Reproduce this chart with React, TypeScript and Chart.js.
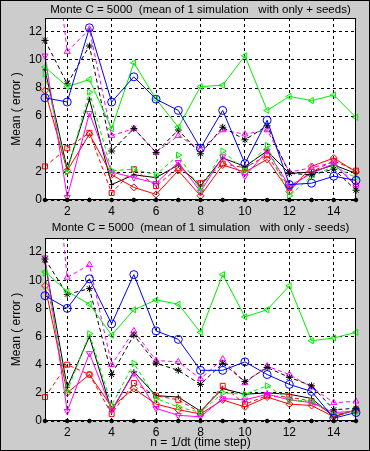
import React, { useEffect, useRef } from 'react';
import { Chart, registerables } from 'chart.js';

Chart.register(...registerables);

// ---------- data ----------
const steps = [1, 2, 3, 4, 5, 6, 7, 8, 9, 10, 11, 12, 13, 14, 15];
const xTickValues = [2, 4, 6, 8, 10, 12, 14];
const yTickValues = [0, 2, 4, 6, 8, 10, 12];

const titlePlus = 'Monte C = 5000  (mean of 1 simulation   with only + seeds)';
const titleMinus = 'Monte C = 5000  (mean of 1 simulation   with only - seeds)';
const yAxisTitle = 'Mean ( error )';
const xAxisTitle = 'n = 1/dt (time step)';

// top panel (only + seeds)
const plusBlueCircle = [7.3, 7.0, 12.3, 7.0, 8.8, 7.2, 6.4, 3.7, 6.4, 2.6, 5.7, 1.1, 1.2, 1.7, 1.4];
const plusGreenLeft = [9.5, 8.1, 8.6, 5.1, 9.8, 7.2, 5.2, 8.1, 8.2, 10.3, 6.4, 7.4, 7.1, 7.5, 5.9];
const plusBlackStar = [11.4, 8.3, 11.0, 3.5, 5.1, 3.4, 5.0, 3.3, 5.2, 4.3, 5.3, 1.9, 1.8, 2.2, 0.7];
const plusMagentaUp = [24, 10.6, 12.2, 4.6, 5.1, 3.4, 4.6, 3.6, 5.0, 4.7, 5.0, 2.0, 2.3, 2.7, 1.1];
const plusGreenRight = [9.0, 2.0, 7.7, 2.1, 2.2, 1.8, 3.2, 0.7, 3.5, 2.1, 3.9, 0.3, 1.7, 2.4, 1.6];
const plusMagentaDown = [10.3, 0.2, 6.2, 2.0, 1.6, 1.2, 2.7, 0.6, 3.1, 1.7, 3.5, 1.0, 1.9, 2.6, 1.0];
const plusRedSquare = [2.4, 3.7, 4.8, 0.5, 2.2, 1.0, 2.3, 1.2, 2.6, 2.3, 3.2, 0.9, 2.0, 2.8, 2.1];
const plusRedDiamond = [7.8, 2.1, 4.7, 1.8, 0.9, 0.4, 2.1, 0.3, 2.5, 2.0, 2.9, 0.6, 2.4, 3.0, 2.0];
const plusBlackSolid = [9.3, 2.2, 7.2, 1.1, 1.8, 1.6, 2.5, 1.0, 3.0, 2.4, 3.5, 1.9, 2.0, 2.5, 1.9];
const plusZero = [0, 0, 0, 0, 0, 0, 0, 0, 0, 0, 0, 0, 0, 0, 0];

// bottom panel (only - seeds)
const minusBlueCircle = [8.9, 8.0, 10.1, 6.9, 10.4, 6.4, 5.8, 3.6, 3.6, 4.2, 3.3, 2.6, 2.1, 0.2, 0.6];
const minusGreenLeft = [10.6, 9.2, 8.3, 6.1, 7.9, 8.6, 8.3, 6.3, 10.4, 7.4, 7.9, 9.6, 5.7, 5.9, 6.3];
const minusBlackStar = [11.5, 9.0, 9.4, 3.3, 6.1, 4.1, 3.6, 2.6, 4.1, 2.8, 3.8, 3.1, 2.5, 0.8, 0.9];
const minusMagentaUp = [26, 10.2, 11.1, 4.0, 6.4, 4.3, 4.2, 3.0, 4.4, 2.7, 3.9, 3.3, 2.4, 1.3, 1.4];
const minusGreenRight = [10.5, 2.1, 6.2, 1.1, 4.1, 1.6, 1.0, 0.6, 2.0, 1.9, 2.5, 1.5, 1.4, 0.5, 0.6];
const minusMagentaDown = [11.6, 0.7, 4.8, 0.8, 3.4, 0.9, 0.4, 0.3, 1.6, 1.5, 1.9, 1.5, 1.3, 0.6, 0.7];
const minusRedSquare = [1.7, 4.0, 3.3, 0.5, 2.7, 1.8, 1.5, 0.6, 2.5, 1.2, 1.8, 1.7, 1.4, 0.4, 0.8];
const minusRedDiamond = [9.6, 2.0, 3.3, 1.0, 2.3, 1.2, 0.8, 0.5, 1.5, 1.0, 1.7, 1.2, 1.1, 0.3, 0.8];
const minusBlackSolid = [11.3, 2.4, 6.0, 0.7, 3.5, 1.8, 1.7, 0.7, 2.3, 1.9, 2.0, 1.9, 1.6, 0.3, 0.8];
const minusZero = [0, 0, 0, 0, 0, 0, 0, 0, 0, 0, 0, 0, 0, 0, 0];

// ---------- styles ----------
const BLUE = '#0000ff';
const GREEN = '#00ee00';
const MAGENTA = '#ff00ff';
const RED = '#ff0000';
const BLACK = '#000000';
const DASH = [4, 3];

type SeriesStyle = {
  color: string;
  pointStyle: string;
  rotation: number;
  radius: number;
  dash: number[];
  showLine: boolean;
  filled: boolean;
};

const seriesStyles: SeriesStyle[] = [
  { color: BLACK, pointStyle: 'circle', rotation: 0, radius: 1.8, dash: [], showLine: false, filled: true },
  { color: BLUE, pointStyle: 'circle', rotation: 0, radius: 4, dash: [], showLine: true, filled: false },
  { color: GREEN, pointStyle: 'triangle', rotation: 270, radius: 3.5, dash: [], showLine: true, filled: false },
  { color: BLACK, pointStyle: 'star', rotation: 0, radius: 3.5, dash: DASH, showLine: true, filled: false },
  { color: MAGENTA, pointStyle: 'triangle', rotation: 0, radius: 3.5, dash: DASH, showLine: true, filled: false },
  { color: GREEN, pointStyle: 'triangle', rotation: 90, radius: 3.5, dash: DASH, showLine: true, filled: false },
  { color: MAGENTA, pointStyle: 'triangle', rotation: 180, radius: 3.5, dash: [], showLine: true, filled: false },
  { color: RED, pointStyle: 'rect', rotation: 0, radius: 3.5, dash: DASH, showLine: true, filled: false },
  { color: RED, pointStyle: 'rectRot', rotation: 0, radius: 3.5, dash: [], showLine: true, filled: false },
  { color: BLACK, pointStyle: 'cross', rotation: 0, radius: 2.5, dash: [], showLine: true, filled: false },
];

const plusSeries = [plusZero, plusBlueCircle, plusGreenLeft, plusBlackStar, plusMagentaUp, plusGreenRight, plusMagentaDown, plusRedSquare, plusRedDiamond, plusBlackSolid];
const minusSeries = [minusZero, minusBlueCircle, minusGreenLeft, minusBlackStar, minusMagentaUp, minusGreenRight, minusMagentaDown, minusRedSquare, minusRedDiamond, minusBlackSolid];

const FONT = '"Liberation Sans", Arial, Helvetica, sans-serif';

const framePlugin = {
  id: 'matlabFrame',
  beforeDraw(chart: any) {
    const { ctx, chartArea: a } = chart;
    ctx.save();
    ctx.fillStyle = '#ffffff';
    ctx.fillRect(a.left, a.top, a.right - a.left, a.bottom - a.top);
    ctx.restore();
  },
  afterDraw(chart: any, _args: any, opts: any) {
    const { ctx, chartArea: a } = chart;
    ctx.save();
    ctx.strokeStyle = '#000000';
    ctx.lineWidth = 1;
    ctx.setLineDash([]);
    ctx.strokeRect(Math.round(a.left) + 0.5, Math.round(a.top) + 0.5, Math.round(a.right - a.left) - 1, Math.round(a.bottom - a.top) - 1);
    ctx.fillStyle = '#000000';
    ctx.font = '11.5px ' + FONT;
    ctx.textAlign = 'center';
    ctx.textBaseline = 'middle';
    ctx.fillText(opts.text, (a.left + a.right) / 2, opts.y);
    ctx.restore();
  },
};

function buildDatasets(series: number[][]) {
  return series.map((vals, i) => {
    const s = seriesStyles[i];
    return {
      data: steps.map((x, j) => ({ x, y: vals[j] })),
      borderColor: s.color,
      backgroundColor: s.filled ? s.color : 'rgba(0,0,0,0)',
      borderWidth: 1,
      borderDash: s.dash,
      showLine: s.showLine,
      pointStyle: s.pointStyle,
      pointRotation: s.rotation,
      pointRadius: s.radius,
      pointBorderColor: s.color,
      pointBackgroundColor: s.filled ? s.color : 'rgba(0,0,0,0)',
      pointBorderWidth: 1,
      tension: 0,
      fill: false,
      clip: { left: 8, right: 8, top: 0, bottom: 8 },
    };
  });
}

type PanelProps = {
  series: number[][];
  title: string;
  titleY: number;
  top: number;
  height: number;
  showXTitle: boolean;
};

function Panel({ series, title, titleY, top, height, showXTitle }: PanelProps) {
  const ref = useRef<HTMLCanvasElement>(null);
  useEffect(() => {
    if (!ref.current) return;
    const chart = new Chart(ref.current, {
      type: 'line',
      data: { datasets: buildDatasets(series) as any },
      plugins: [framePlugin as any],
      options: {
        animation: false,
        responsive: false,
        events: [],
        layout: { padding: { top: 18, right: 14, left: 0, bottom: 0 } },
        plugins: {
          legend: { display: false },
          tooltip: { enabled: false },
          matlabFrame: { text: title, y: titleY },
        } as any,
        scales: {
          x: {
            type: 'linear',
            min: 1,
            max: 15,
            afterBuildTicks: (scale: any) => {
              scale.ticks = xTickValues.map((v) => ({ value: v }));
            },
            afterFit: (scale: any) => {
              scale.height = showXTitle ? 30 : 20;
            },
            ticks: {
              color: '#000',
              font: { family: FONT, size: 12 },
              padding: 4,
              maxRotation: 0,
              autoSkip: false,
            },
            grid: { color: '#000', lineWidth: 1, drawTicks: false },
            border: { display: false, dash: [3, 3] },
            title: {
              display: showXTitle,
              text: xAxisTitle,
              color: '#000',
              font: { family: FONT, size: 12 },
              padding: { top: 0, bottom: 1 },
            },
          },
          y: {
            type: 'linear',
            min: 0,
            max: 13,
            afterBuildTicks: (scale: any) => {
              scale.ticks = yTickValues.map((v) => ({ value: v }));
            },
            afterFit: (scale: any) => {
              scale.width = 45;
            },
            ticks: {
              color: '#000',
              font: { family: FONT, size: 12 },
              padding: 3,
            },
            grid: { color: '#000', lineWidth: 1, drawTicks: false },
            border: { display: false, dash: [3, 3] },
            title: {
              display: true,
              text: yAxisTitle,
              color: '#000',
              font: { family: FONT, size: 12 },
              padding: { top: 9, bottom: 0 },
            },
          },
        },
      } as any,
    });
    return () => chart.destroy();
  }, []);
  return (
    <canvas
      ref={ref}
      width={370}
      height={height}
      style={{ position: 'absolute', left: 0, top, display: 'block', width: 370, height }}
    />
  );
}

export default function App() {
  return (
    <div
      style={{
        position: 'absolute',
        left: 0,
        top: 0,
        width: 370,
        height: 451,
        background: '#cccccc',
        overflow: 'hidden',
      }}
    >
      <Panel series={plusSeries} title={titlePlus} titleY={10} top={0} height={220} showXTitle={false} />
      <Panel series={minusSeries} title={titleMinus} titleY={8} top={220} height={231} showXTitle={true} />
      <div
        style={{
          position: 'absolute',
          left: 0,
          top: 0,
          width: 370,
          height: 451,
          boxSizing: 'border-box',
          border: '1px solid #000',
          pointerEvents: 'none',
        }}
      />
    </div>
  );
}
